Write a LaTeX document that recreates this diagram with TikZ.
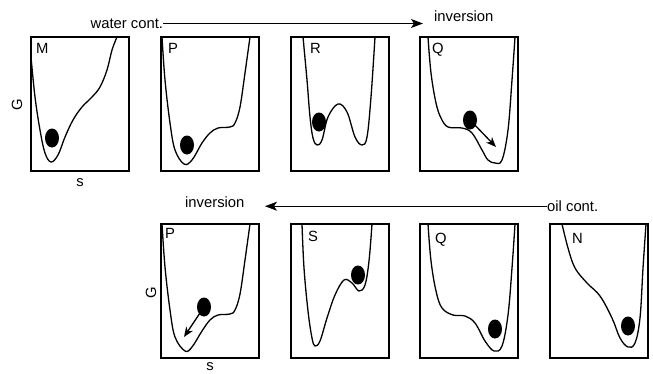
\documentclass[tikz,border=0pt]{standalone}
\usepackage{fontspec}
\setmainfont{Liberation Sans}
\usetikzlibrary{arrows.meta,shapes.geometric}
\begin{document}
\begin{tikzpicture}[x=1pt,y=-1pt,
  panel/.style={line width=1.3pt},
  ball/.style={ellipse,fill=black,draw=none,minimum width=14pt,minimum height=19pt,inner sep=0pt},
  lbl/.style={font=\fontsize{14.8}{16}\selectfont,inner sep=0pt},
  bigarrow/.style={line width=1.1pt,-{Stealth[length=12pt,width=9pt,inset=3pt]}},
  ballarrow/.style={line width=1.3pt,-{Stealth[length=10pt,width=8pt,inset=3pt]}}]
\useasboundingbox (0,0) rectangle (653,373);

% ---------- top row ----------
\node[lbl,anchor=west] (water) at (90.5,23.5) {water cont.};
\coordinate (tip1) at (423,23.5);
\draw[bigarrow] (water.east) -- (tip1);
\node[lbl,anchor=base west] (inv1) at (434,21.7) {inversion};
\node[lbl,rotate=90] (G1) at (17,105) {G};
\node[lbl] (s1) at (80,183) {s};

% M
\begin{scope}[shift={(31,37)}]
\draw[panel] (0,0) rectangle (98,134);
\node[lbl,anchor=north west] (lM) at (5,6) {M};
\draw[line width=1.3pt] plot[smooth,tension=0.6] coordinates {(0,20) (4,60) (9,93) (14,116) (20,125) (27,118) (34,100) (42,83) (51,70) (61,60) (69,50) (76,33) (81,13) (86,0)};
\node[ball] (bM) at (21,101) {};
\end{scope}

% P (top)
\begin{scope}[shift={(161,37)}]
\draw[panel] (0,0) rectangle (98,134);
\node[lbl,anchor=north west] (lP1) at (7,6) {P};
\draw[line width=1.3pt] plot[smooth,tension=0.6] coordinates {(1,0) (4,43) (9,86) (14,113) (23,127) (31,123) (41,106) (49,96) (57,91) (69,90) (74,86) (79,70) (84,36) (89,0)};
\node[ball] (bP1) at (26,108) {};
\end{scope}

% R
\begin{scope}[shift={(291,37)}]
\draw[panel] (0,0) rectangle (98,134);
\node[lbl,anchor=north west] (lR) at (19,6) {R};
\draw[line width=1.3pt] plot[smooth,tension=0.6] coordinates {(12,0) (16,43) (19,80) (22,101) (26,108) (31,103) (37,80) (47,67) (56,75) (64,100) (71,108) (76,100) (80,60) (84,0)};
\node[ball] (bR) at (28,85) {};
\end{scope}

% Q (top)
\begin{scope}[shift={(420,37)}]
\draw[panel] (0,0) rectangle (98,134);
\node[lbl,anchor=north west] (lQ1) at (12,6) {Q};
\draw[line width=1.3pt] plot[smooth,tension=0.6] coordinates {(8,0) (11,36) (16,66) (21,81) (28,90) (42,91) (52,96) (62,113) (68,123) (75,126) (82,123) (88,93) (92,43) (95,0)};
\node[ball] (bQ1) at (50,83) {};
\coordinate (aQ1) at (76,110);
\draw[ballarrow] (bQ1.center) -- (aQ1);
\end{scope}

% ---------- bottom row ----------
\node[lbl,anchor=base west] (oil) at (547,211.5) {oil cont.};
\coordinate (tip2) at (265,206);
\draw[bigarrow] (oil.west) -- (oil.west -| tip2);
\node[lbl,anchor=base west] (inv2) at (185,207.5) {inversion};
\node[lbl,rotate=90] (G2) at (151,293) {G};
\node[lbl] (s2) at (210,367) {s};

% P (bottom)
\begin{scope}[shift={(161,224)}]
\draw[panel] (0,0) rectangle (98,134);
\node[lbl,anchor=north west] (lP2) at (4,4) {P};
\draw[line width=1.3pt] plot[smooth,tension=0.6] coordinates {(1,0) (4,43) (9,86) (14,113) (24,127) (31,123) (41,107) (49,96) (57,91) (69,90) (74,86) (79,70) (84,36) (89,0)};
\node[ball] (bP2) at (43,83) {};
\coordinate (aP2) at (23,113);
\draw[ballarrow] (bP2.center) -- (aP2);
\end{scope}

% S
\begin{scope}[shift={(291,224)}]
\draw[panel] (0,0) rectangle (98,134);
\node[lbl,anchor=north west] (lS) at (17,7) {S};
\draw[line width=1.3pt] plot[smooth,tension=0.6] coordinates {(11,0) (13,44) (17,87) (21,114) (24,122) (29,117) (36,94) (44,71) (53,56) (61,59) (68,67) (74,61) (78,37) (81,0)};
\node[ball] (bS) at (67,51) {};
\end{scope}

% Q (bottom)
\begin{scope}[shift={(420,224)}]
\draw[panel] (0,0) rectangle (98,134);
\node[lbl,anchor=north west] (lQ2) at (15,9) {Q};
\draw[line width=1.3pt] plot[smooth,tension=0.6] coordinates {(8,0) (11,37) (16,67) (22,84) (33,91) (45,92) (55,99) (65,117) (74,127) (82,122) (88,91) (92,44) (95,0)};
\node[ball] (bQ2) at (75,105) {};
\end{scope}

% N
\begin{scope}[shift={(550,224)}]
\draw[panel] (0,0) rectangle (98,134);
\node[lbl,anchor=north west] (lN) at (22,9) {N};
\draw[line width=1.3pt] plot[smooth,tension=0.6] coordinates {(12,0) (18,24) (25,44) (37,59) (50,72) (62,94) (70,114) (78,123) (85,119) (90,94) (93,44) (96,0)};
\node[ball] (bN) at (78,102) {};
\end{scope}
\end{tikzpicture}
\end{document}
